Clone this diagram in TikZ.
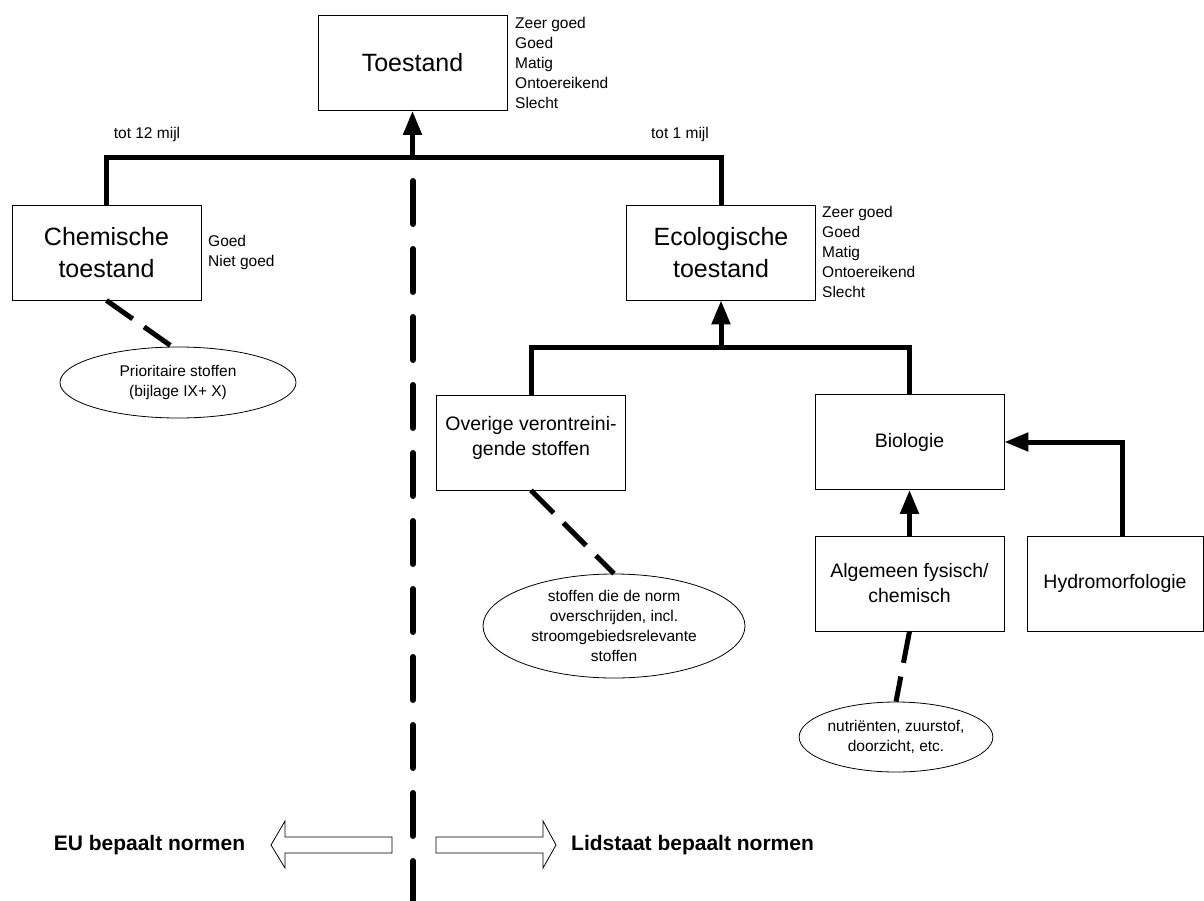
\documentclass[tikz,border=0pt]{standalone}
\usepackage{fontspec}
\setmainfont{Liberation Sans}
\usetikzlibrary{arrows.meta,shapes.geometric}
\begin{document}
\begin{tikzpicture}[x=1pt,y=-1pt,
  box/.style={draw, line width=0.8pt, minimum width=189pt, minimum height=95pt, inner sep=0pt, align=center},
  big/.style={font=\fontsize{25}{32}\selectfont},
  mid/.style={font=\fontsize{19.5}{25}\selectfont},
  small/.style={font=\fontsize{15.5}{20}\selectfont, inner sep=0pt},
  oval/.style={draw, ellipse, line width=0.8pt, inner sep=0pt, align=center, font=\fontsize{15.5}{20}\selectfont},
  conn/.style={line width=5pt},
  tip/.style={-{Triangle[width=18pt,length=24pt]}},
  dashlink/.style={line width=5pt, dash pattern=on 32pt off 14pt},
  divider/.style={line width=6pt, line cap=round, dash pattern=on 43pt off 25pt},
  bold/.style={font=\bfseries\fontsize{21}{25}\selectfont, inner sep=0pt},
  hollow/.style={draw, line width=0.8pt, fill=white}
]
\useasboundingbox (0,0) rectangle (1204,900);

% boxes
\node[box,big] (toe) at (412.5,63) {Toestand};
\node[box,big] (chem) at (106.5,252.5) {Chemische\\toestand};
\node[box,big] (eco) at (721,252.5) {Ecologische\\toestand};
\node[box] (ove) at (531,442.5) {};
\node[mid, align=center, inner sep=0pt] (ovetext) at (531,438) {Overige verontreini-\\gende stoffen};
\node[box,mid] (bio) at (909.5,442) {Biologie};
\node[box,mid] (alg) at (909.5,583.5) {Algemeen fysisch/\\chemisch};
\node[box,mid,minimum width=176pt] (hyd) at (1115,583.5) {Hydromorfologie};

% ellipses
\node[oval, minimum width=236pt, minimum height=71pt] (pri) at (178,382.5) {Prioritaire stoffen\\(bijlage IX+ X)};
\node[oval, minimum width=262pt, minimum height=104pt] (sto) at (614,626) {stoffen die de norm\\overschrijden, incl.\\stroomgebiedsrelevante\\stoffen};
\node[oval, minimum width=192pt, minimum height=70pt] (nut) at (896,737) {nutriënten, zuurstof,\\doorzicht, etc.};

% side labels
\node[small, anchor=west, align=left] (toelist) at (515,62.5) {Zeer goed\\Goed\\Matig\\Ontoereikend\\Slecht};
\node[small, anchor=west, align=left] (chemlist) at (208,252) {Goed\\Niet goed};
\node[small, anchor=west, align=left] (ecolist) at (822,252) {Zeer goed\\Goed\\Matig\\Ontoereikend\\Slecht};
\node[small] (t12) at (147,134) {tot 12 mijl};
\node[small] (t1) at (680,134) {tot 1 mijl};

% upper tree
\coordinate (barL) at (106.5,157);
\coordinate (barR) at (721,157);
\draw[conn] (chem.north) -- (barL) -- (barR) -- (eco.north);
\draw[conn,tip] (toe.south |- barL) -- (toe.south);

% lower tree
\coordinate (lbL) at (531,347);
\coordinate (lbR) at (909.5,347);
\draw[conn] (ove.north) -- (lbL) -- (lbR) -- (bio.north);
\draw[conn,tip] (eco.south |- lbL) -- (eco.south);
\draw[conn,tip] (alg.north) -- (bio.south);
\draw[conn,tip] ([xshift=7pt]hyd.north) |- (bio.east);

% dashed links
\draw[dashlink] (chem.south) -- ([xshift=-6pt]pri.north);
\draw[dashlink] (ove.south) -- (sto.north);
\draw[dashlink] (alg.south) -- (nut.north);

% divider
\coordinate (divtop) at (413,181);
\coordinate (divbot) at (413,903);
\draw[divider] (divtop) -- (divbot);

% bottom arrows and labels
\draw[hollow] (392,837) -- (285,837) -- (285,821) -- (271,845) -- (285,868) -- (285,853) -- (392,853) -- cycle;
\draw[hollow] (436,837) -- (543,837) -- (543,821) -- (556,845) -- (543,868) -- (543,853) -- (436,853) -- cycle;
\node[bold] (eu) at (149.5,845) {EU bepaalt normen};
\node[bold, anchor=west] (lid) at (571,845) {Lidstaat bepaalt normen};
\end{tikzpicture}
\end{document}
